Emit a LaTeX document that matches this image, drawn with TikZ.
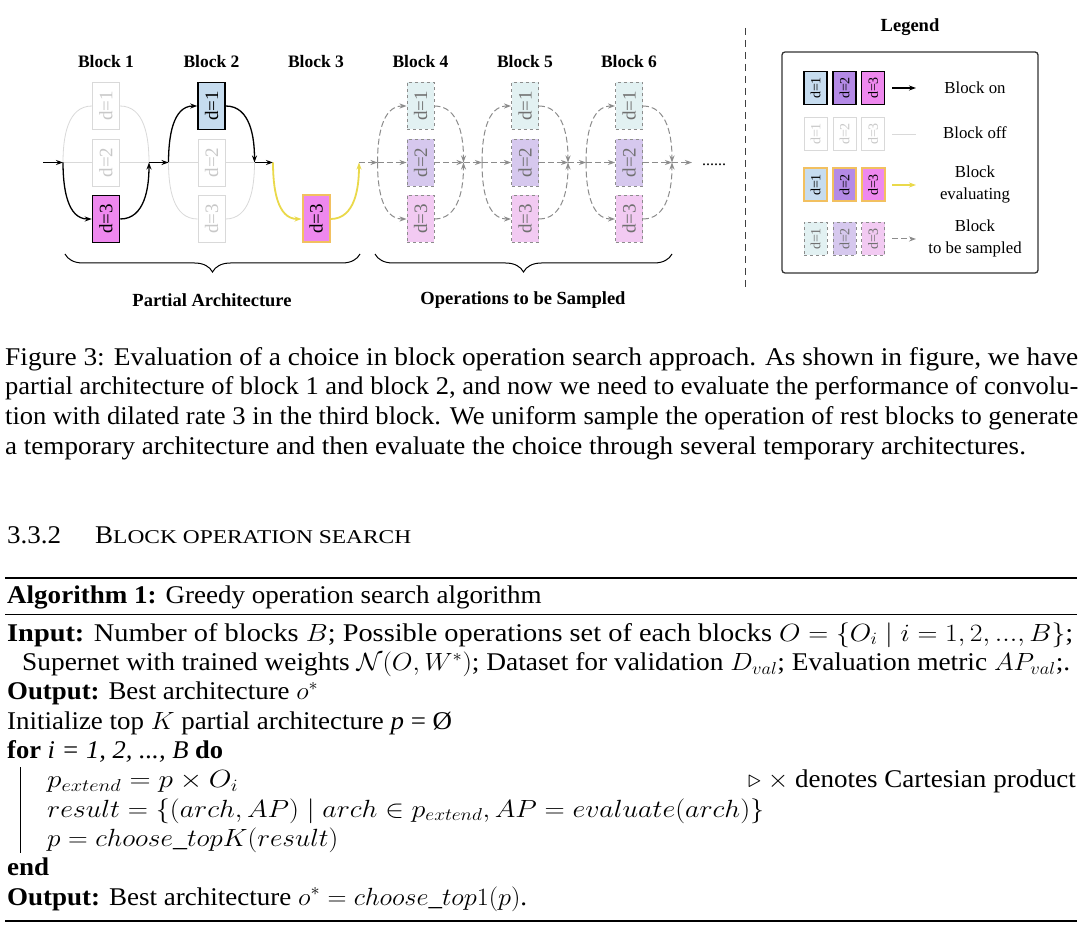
\documentclass[tikz,border=0pt]{standalone}
\usepackage[no-math]{fontspec}
\setmainfont{Liberation Serif}
\usepackage{amsmath,amssymb}
\usetikzlibrary{arrows.meta,decorations.pathreplacing,calc}
\definecolor{bOn}{HTML}{C6DCEF}
\definecolor{pOn}{HTML}{B48AE6}
\definecolor{mOn}{HTML}{EE88EE}
\definecolor{bS}{HTML}{E2F1F2}
\definecolor{pS}{HTML}{D6C8EE}
\definecolor{mS}{HTML}{F2CAF2}
\definecolor{offc}{HTML}{D9D9D9}
\definecolor{offt}{HTML}{C8C8C8}
\definecolor{evalc}{HTML}{F2C060}
\definecolor{yel}{HTML}{EAD94A}
\definecolor{smp}{HTML}{8C8C8C}
\definecolor{smpt}{HTML}{707070}
\newcommand{\hsc}[1]{\scalebox{1.06}[1]{#1}}
\newcommand{\fitw}[2]{\resizebox{#1}{\height}{#2}}
\newcommand{\rt}[1]{\rotatebox{90}{#1}}
\tikzset{
  lbl/.style={font=\fontsize{17.5}{19}\selectfont\bfseries, inner sep=0pt},
  big/.style={font=\fontsize{18.5}{20}\selectfont\bfseries, inner sep=0pt},
  leg/.style={font=\fontsize{16.8}{22}\selectfont, inner sep=0pt, align=center},
  box/.style={minimum width=27pt, minimum height=47pt, inner sep=0pt, font=\fontsize{19}{19}\selectfont},
  lbox/.style={minimum width=23pt, minimum height=33pt, inner sep=0pt, font=\fontsize{14}{14}\selectfont},
  on/.style={draw=black, line width=1.5pt},
  off/.style={draw=offc, fill=white, text=offt, line width=0.9pt},
  ev/.style={draw=evalc, line width=2pt},
  smpl/.style={draw=smp, dashed, line width=0.9pt, text=smpt},
  tip/.style={-{Stealth[length=7pt,width=5pt]}},
  onl/.style={black, line width=1.3pt, tip},
  offl/.style={offc, line width=0.8pt},
  evl/.style={yel, line width=1.8pt, tip},
  sl/.style={smp, line width=1pt, dash pattern=on 6pt off 3pt, tip},
  body/.style={font=\fontsize{25.5}{29}\selectfont, inner sep=0pt, anchor=base west},
}
\begin{document}
\begin{tikzpicture}[x=1pt,y=-1pt]
\useasboundingbox (0,0) rectangle (1080,933);
\fill[white] (0,0) rectangle (1080,933);

% ---------- block labels ----------
\foreach \i/\x in {1/106,2/211.5,3/316,4/420.5,5/525,6/629}
  \node[lbl] (h\i) at (\x,62) {Block \i};

% ---------- block 1 ----------
\node[box,off] (b1a) at (106,106) {\rt{d=1}};
\node[box,off] (b1b) at (106,162.5) {\rt{d=2}};
\node[box,on,fill=mOn] (b1c) at (106,219) {\rt{d=3}};
\coordinate (S) at (43,162.5);
\coordinate (L1) at (63,162.5);
\coordinate (R1) at (149,162.5);
\draw[offl] (L1) to[out=90,in=180] (b1a.west);
\draw[offl] (b1a.east) to[out=0,in=90] (R1);
\draw[offl] (L1) -- (b1b.west);
\draw[offl] (b1b.east) -- (R1);
\draw[onl] (S) -- (L1);
\draw[onl] (L1) to[out=-90,in=180] (b1c.west);
\draw[onl] (b1c.east) to[out=0,in=-90] (R1);

% ---------- block 2 ----------
\node[box,on,fill=bOn] (b2a) at (211.5,106) {\rt{d=1}};
\node[box,off] (b2b) at (211.5,162.5) {\rt{d=2}};
\node[box,off] (b2c) at (211.5,219) {\rt{d=3}};
\coordinate (L2) at (168.5,162.5);
\coordinate (R2) at (254.5,162.5);
\draw[onl] (R1) -- (L2);
\draw[onl] (L2) to[out=90,in=180] (b2a.west);
\draw[onl] (b2a.east) to[out=0,in=90] (R2);
\draw[offl] (L2) -- (b2b.west);
\draw[offl] (b2b.east) -- (R2);
\draw[offl] (L2) to[out=-90,in=180] (b2c.west);
\draw[offl] (b2c.east) to[out=0,in=-90] (R2);

% ---------- block 3 ----------
\node[box,ev,fill=mOn] (b3c) at (316,219) {\rt{d=3}};
\coordinate (L3) at (273,162.5);
\coordinate (R3) at (359,162.5);
\draw[onl] (R2) -- (L3);
\draw[evl] (L3) to[out=-90,in=180] (b3c.west);
\draw[evl] (b3c.east) to[out=0,in=-90] (R3);

% ---------- blocks 4-6 ----------
\foreach \i/\x in {4/420.5,5/525,6/629} {
  \node[box,smpl,fill=bS] (b\i a) at (\x,106) {\rt{d=1}};
  \node[box,smpl,fill=pS] (b\i b) at (\x,162.5) {\rt{d=2}};
  \node[box,smpl,fill=mS] (b\i c) at (\x,219) {\rt{d=3}};
  \coordinate (L\i) at (\x-43,162.5);
  \coordinate (R\i) at (\x+43,162.5);
  \draw[sl] (L\i) to[out=90,in=180] (b\i a.west);
  \draw[sl] (b\i a.east) to[out=0,in=90] (R\i);
  \draw[sl] (L\i) -- (b\i b.west);
  \draw[sl] (b\i b.east) -- (R\i);
  \draw[sl] (L\i) to[out=-90,in=180] (b\i c.west);
  \draw[sl] (b\i c.east) to[out=0,in=-90] (R\i);
}
\draw[sl] (R3) -- (L4);
\draw[sl] (R4) -- (L5);
\draw[sl] (R5) -- (L6);
\coordinate (E) at (692,162.5);
\draw[sl] (R6) -- (E);
\node[font=\fontsize{16}{16}\selectfont, inner sep=0pt, anchor=base west] (dots) at (702,166) {......};

% ---------- braces ----------
\draw[decorate, decoration={brace, mirror, amplitude=18pt}, line width=1pt] (65,254) -- (360,254);
\draw[decorate, decoration={brace, mirror, amplitude=18pt}, line width=1pt] (375,254) -- (672,254);
\node[big] (pa) at (212,300) {Partial Architecture};
\node[big] (os) at (523,300) {Operations to be Sampled};

% ---------- separator ----------
\draw[black!75, line width=1pt, dash pattern=on 7pt off 5pt] (745,28) -- (745,287);

% ---------- legend ----------
\node[big] (lt) at (910,27) {Legend};
\draw[rounded corners=3pt, line width=1.3pt, black!80] (782,52) rectangle (1038,273);
\foreach \r/\y in {1/88,2/134,3/185,4/239} {
  \coordinate (la\r) at (892,\y);
  \coordinate (lb\r) at (916,\y);
}
\node[lbox,on,fill=bOn] (l1a) at (815.5,88) {\rt{d=1}};
\node[lbox,on,fill=pOn] (l1b) at (844.5,88) {\rt{d=2}};
\node[lbox,on,fill=mOn] (l1c) at (873,88) {\rt{d=3}};
\node[lbox,off] (l2a) at (815.5,134) {\rt{d=1}};
\node[lbox,off] (l2b) at (844.5,134) {\rt{d=2}};
\node[lbox,off] (l2c) at (873,134) {\rt{d=3}};
\node[lbox,ev,fill=bOn] (l3a) at (815.5,185) {\rt{d=1}};
\node[lbox,ev,fill=pOn] (l3b) at (844.5,185) {\rt{d=2}};
\node[lbox,ev,fill=mOn] (l3c) at (873,185) {\rt{d=3}};
\node[lbox,smpl,fill=bS] (l4a) at (815.5,239) {\rt{d=1}};
\node[lbox,smpl,fill=pS] (l4b) at (844.5,239) {\rt{d=2}};
\node[lbox,smpl,fill=mS] (l4c) at (873,239) {\rt{d=3}};
\draw[onl] (la1) -- (lb1);
\draw[offl] (la2) -- (lb2);
\draw[evl] (la3) -- (lb3);
\draw[sl] (la4) -- (lb4);
\node[leg] (t1) at (975,88) {Block on};
\node[leg] (t2) at (975,133) {Block off};
\node[leg] (t3) at (975,184) {Block\\evaluating};
\node[leg] (t4) at (975,238) {Block\\to be sampled};

% ---------- caption ----------
\node[body] (c1) at (5,365.5) {\fitw{1073pt}{Figure 3: Evaluation of a choice in block operation search approach. As shown in figure, we have}};
\node[body] (c2) at (5,395) {\fitw{1073pt}{partial architecture of block 1 and block 2, and now we need to evaluate the performance of convolu-}};
\node[body] (c3) at (5,424.5) {\fitw{1073pt}{tion with dilated rate 3 in the third block. We uniform sample the operation of rest blocks to generate}};
\node[body] (c4) at (5,454) {\hsc{a temporary architecture and then evaluate the choice through several temporary architectures.}};

% ---------- section ----------
\node[body] (s1) at (7,543) {\hsc{3.3.2}};
\node[body] (s2) at (95,543) {\hsc{B}\fitw{298pt}{\fontsize{19.5}{20}\selectfont LOCK OPERATION SEARCH}};

% ---------- algorithm ----------
\coordinate (r1a) at (5,577.5); \coordinate (r1b) at (1077,577.5);
\coordinate (r2a) at (5,614.5); \coordinate (r2b) at (1077,614.5);
\coordinate (r3a) at (5,921); \coordinate (r3b) at (1077,921);
\draw[line width=2pt] (r1a) -- (r1b);
\draw[line width=1.2pt] (r2a) -- (r2b);
\draw[line width=2pt] (r3a) -- (r3b);
\node[body] (a0) at (7,603) {\hsc{\textbf{Algorithm 1:} Greedy operation search algorithm}};
\node[body] (a1) at (7,641) {\fitw{1066pt}{\textbf{Input:} Number of blocks $B$; Possible operations set of each blocks $O=\{O_i \mid i=1,2,...,B\}$;}};
\node[body] (a2) at (22,670.3) {\fitw{1048pt}{Supernet with trained weights $\mathcal{N}(O,W^*)$; Dataset for validation $D_{val}$; Evaluation metric $AP_{val}$;.}};
\node[body] (a3) at (7,699.7) {\fitw{311pt}{\textbf{Output:} Best architecture $o^*$}};
\node[body] (a4) at (7,729) {\fitw{445pt}{Initialize top $K$ partial architecture \textit{p} = Ø}};
\node[body] (a5) at (7,758.3) {\fitw{216pt}{\textbf{for} \textit{i = 1, 2, ..., B} \textbf{do}}};
\node[body] (a6) at (47,787.7) {\fitw{191pt}{$p_{extend} = p\times O_i$}};
\node[body, anchor=base east] (a6c) at (1076,787.7) {\hsc{$\triangleright$ $\times$ denotes Cartesian product}};
\node[body] (a7) at (47,817) {\fitw{717pt}{$result = \{(arch, AP) \mid arch \in p_{extend}, AP = evaluate(arch)\}$}};
\node[body] (a8) at (47,846.3) {\fitw{291pt}{$p = choose\_topK(result)$}};
\node[body] (a9) at (7,875.7) {\hsc{\textbf{end}}};
\node[body] (a10) at (7,905) {\fitw{520pt}{\textbf{Output:} Best architecture $o^* = choose\_top1(p)$.}};
\coordinate (va) at (20,767); \coordinate (vb) at (20,853);
\draw[line width=1pt] (va) -- (vb);
\end{tikzpicture}
\end{document}
